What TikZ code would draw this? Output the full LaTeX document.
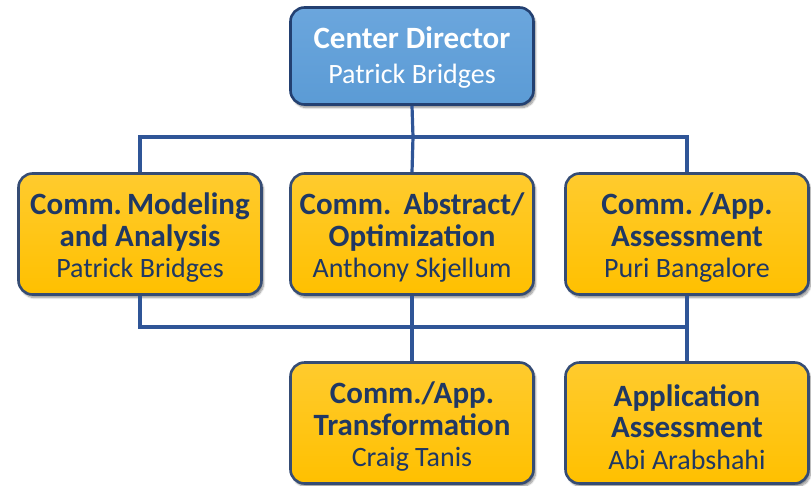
\documentclass[tikz,border=0pt]{standalone}
\usepackage{fontspec}
\setmainfont{Carlito}
\usetikzlibrary{shadows.blur}
\definecolor{navy}{HTML}{1F3864}
\definecolor{linkblue}{HTML}{2F5597}
\definecolor{gold}{HTML}{FFC000}
\definecolor{goldlight}{HTML}{FFCB2E}
\definecolor{sky}{HTML}{5B9BD5}
\definecolor{skylight}{HTML}{6BA6DD}
\newcommand{\hd}[1]{{\fontsize{31}{31.5}\selectfont\bfseries #1}}
\tikzset{
  unitbox/.style={rounded corners=14pt, line width=2.6pt, minimum width=243pt,
    inner sep=0pt,
    blur shadow={shadow xshift=2pt, shadow yshift=-3pt, shadow blur steps=8, shadow opacity=45}},
  leadbox/.style={unitbox, draw=linkblue!75!black, top color=skylight, bottom color=sky,
    minimum height=97pt},
  teambox/.style={unitbox, draw=navy!90, top color=goldlight, bottom color=gold,
    minimum height=121pt},
  boxtext/.style={align=center, inner sep=0pt, font=\fontsize{28}{31.5}\selectfont\frenchspacing},
  leadtext/.style={boxtext, text=white, font=\fontsize{28}{35}\selectfont\frenchspacing},
  teamtext/.style={boxtext, text=navy},
  link/.style={draw=linkblue, line width=3.2pt}
}
\begin{document}
\begin{tikzpicture}[x=1pt, y=-1pt]
  \useasboundingbox (0,0) rectangle (811,485);
  % connector joints
  \coordinate (j1) at (413,137);
  \coordinate (j2) at (413,327);
  % boxes
  \node[leadbox] (dir) at (412,56) {};
  \node[teambox] (mod) at (140,234) {};
  \node[teambox] (abs) at (412,234) {};
  \node[teambox] (ass) at (687,234) {};
  \node[teambox] (tra) at (412,423) {};
  \node[teambox] (app) at (687,423) {};
  % box labels
  \node[leadtext] (dir-t) at ([yshift=-2pt]dir.center) {\hd{Center Director}\\Patrick Bridges};
  \node[teamtext] (mod-t) at ([yshift=-4pt]mod.center) {\hd{Comm.\,Modeling}\\\hd{and Analysis}\\Patrick Bridges};
  \node[teamtext] (abs-t) at ([yshift=-4pt]abs.center) {\hd{Comm.\ \,Abstract/}\\\hd{Optimization}\\Anthony Skjellum};
  \node[teamtext] (ass-t) at ([yshift=-4pt]ass.center) {\hd{Comm. /App.}\\\hd{Assessment}\\Puri Bangalore};
  \node[teamtext] (tra-t) at ([yshift=-4pt]tra.center) {\hd{Comm./App.}\\\hd{Transformation}\\Craig Tanis};
  \node[teamtext] (app-t) at ([yshift=-4pt]app.center) {\hd{Application}\\\hd{Assessment}\\Abi Arabshahi};
  % connectors
  \path[link] (dir.south) -- (j1);
  \path[link] (mod.north) |- (j1) -| (ass.north);
  \path[link] (j1) -- (abs.north);
  \path[link] (mod.south) |- (j2) -| (ass.south);
  \path[link] (abs.south) -- (tra.north);
  \path[link] (ass.south) -- (app.north);
\end{tikzpicture}
\end{document}
